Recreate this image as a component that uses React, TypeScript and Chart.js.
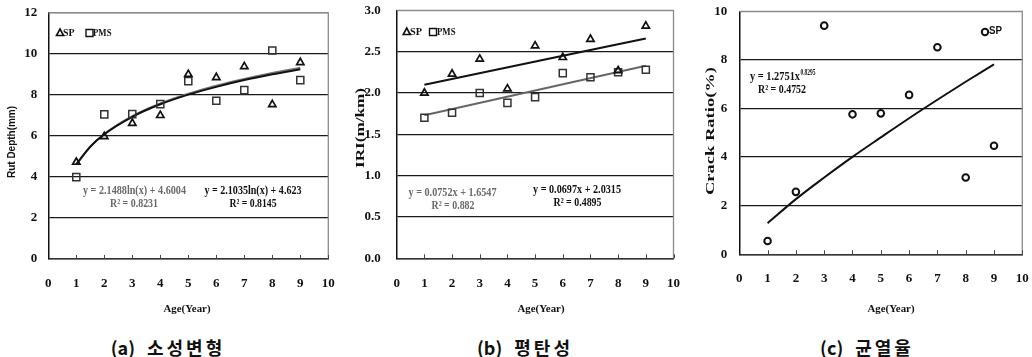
import React, { useEffect, useRef } from 'react';
import { Chart, registerables } from 'chart.js';

Chart.register(...registerables);

// ---------- data ----------
const ageYears = [1, 2, 3, 4, 5, 6, 7, 8, 9];
const xTickValues = [0, 1, 2, 3, 4, 5, 6, 7, 8, 9, 10];

// (a) rut depth (mm)
const rutDepthSP = [4.72, 5.97, 6.62, 7.0, 9.0, 8.85, 9.38, 7.53, 9.58];
const rutDepthPMS = [3.99, 7.05, 7.06, 7.55, 8.67, 7.71, 8.23, 10.16, 8.72];
const rutTrendAges = [1, 1.5, 2, 3, 4, 5, 6, 7, 8, 9];
const rutTrendSP = [4.62, 5.48, 6.08, 6.93, 7.54, 8.01, 8.39, 8.72, 9.0, 9.25];
const rutTrendPMS = [4.6, 5.47, 6.09, 6.96, 7.58, 8.06, 8.45, 8.78, 9.07, 9.32];

// (b) IRI (m/km)
const iriSP = [2.0, 2.23, 2.41, 2.05, 2.57, 2.43, 2.65, 2.27, 2.81];
const iriPMS = [1.7, 1.76, 2.0, 1.88, 1.95, 2.24, 2.19, 2.25, 2.28];
const iriTrendAges = [1, 9];
const iriTrendSP = [2.1, 2.66];
const iriTrendPMS = [1.73, 2.33];

// (c) crack ratio (%)
const crackSP = [0.55, 2.57, 9.41, 5.76, 5.8, 6.56, 8.52, 3.16, 4.47];
const crackTrendAges = [1, 2, 3, 4, 5, 6, 7, 8, 9];
const crackTrendSP = [1.28, 2.27, 3.16, 4.01, 4.81, 5.6, 6.36, 7.1, 7.82];

const captionTags = ['(a)', '(b)', '(c)'];
const captionTitles = ['소성변형', '평탄성', '균열율'];

// ---------- helpers ----------
const pts = (xs: number[], ys: number[]) => xs.map((x, i) => ({ x, y: ys[i] }));

type TextItem = {
  t: string;
  x: number;
  y: number;
  w: number;
  font: string;
  color?: string;
  align?: CanvasTextAlign;
  rot?: boolean;
  sup?: { t: string; w: number; font: string; dy: number };
};
type Marker = { kind: 'tri' | 'rect' | 'circle'; x: number; y: number };

function fitText(ctx: CanvasRenderingContext2D, it: TextItem, offX: number) {
  ctx.save();
  ctx.font = it.font;
  ctx.fillStyle = it.color || '#111';
  ctx.textBaseline = 'middle';
  const w = ctx.measureText(it.t).width;
  const sx = it.w / w;
  ctx.translate(it.x - offX, it.y);
  if (it.rot) ctx.rotate(-Math.PI / 2);
  ctx.scale(sx, 1);
  ctx.textAlign = it.align || 'center';
  ctx.fillText(it.t, 0, 0);
  ctx.restore();
  if (it.sup) {
    ctx.save();
    ctx.font = it.sup.font;
    ctx.fillStyle = it.color || '#111';
    ctx.textBaseline = 'middle';
    ctx.textAlign = 'left';
    const sw = ctx.measureText(it.sup.t).width;
    ctx.translate(it.x - offX + it.w + 0.5, it.y + it.sup.dy);
    ctx.scale(it.sup.w / sw, 1);
    ctx.fillText(it.sup.t, 0, 0);
    ctx.restore();
  }
}

function drawMarker(ctx: CanvasRenderingContext2D, m: Marker, offX: number) {
  const x = m.x - offX;
  const y = m.y;
  ctx.save();
  ctx.strokeStyle = '#111';
  ctx.lineWidth = m.kind === 'rect' ? 1.4 : m.kind === 'circle' ? 2 : 1.6;
  ctx.beginPath();
  if (m.kind === 'tri') {
    ctx.moveTo(x, y - 4);
    ctx.lineTo(x + 3.5, y + 2.5);
    ctx.lineTo(x - 3.5, y + 2.5);
    ctx.closePath();
  } else if (m.kind === 'rect') {
    ctx.rect(x - 3.5, y - 3.5, 7, 7);
  } else {
    ctx.arc(x, y, 3.2, 0, Math.PI * 2);
  }
  ctx.stroke();
  ctx.restore();
}

type Panel = {
  left: number;
  width: number;
  area: { l: number; r: number; t: number; b: number };
  yMin: number;
  yMax: number;
  yStep: number;
  yDecimals: number;
  yPad: number;
  xPad: number;
  datasets: any[];
  texts: TextItem[];
  markers: Marker[];
};

const H = 320;
const serifB = (s: number) => `bold ${s}px "Liberation Serif", "DejaVu Serif", serif`;
const sansB = (s: number) => `bold ${s}px "Liberation Sans", Arial, sans-serif`;

const triStyle = {
  pointStyle: 'triangle',
  pointRadius: 4.2,
  pointBorderWidth: 1.7,
  borderColor: '#111',
  backgroundColor: 'rgba(0,0,0,0)',
  showLine: false,
};
const rectStyle = {
  pointStyle: 'rect',
  pointRadius: 5,
  pointBorderWidth: 1.5,
  borderColor: '#333',
  backgroundColor: 'rgba(0,0,0,0)',
  showLine: false,
};
const lineStyle = (color: string) => ({
  showLine: true,
  pointRadius: 0,
  borderWidth: 2,
  borderColor: color,
  backgroundColor: color,
  cubicInterpolationMode: 'monotone',
});

const panels: Panel[] = [
  {
    left: 0,
    width: 340,
    area: { l: 48.3, r: 328.3, t: 12.8, b: 259 },
    yMin: 0,
    yMax: 12,
    yStep: 2,
    yDecimals: 0,
    yPad: 11,
    xPad: 17,
    datasets: [
      { ...lineStyle('#111'), data: pts(rutTrendAges, rutTrendSP), order: 1 },
      { ...lineStyle('#777'), data: pts(rutTrendAges, rutTrendPMS), order: 2 },
      { ...triStyle, data: pts(ageYears, rutDepthSP), order: 0 },
      { ...rectStyle, data: pts(ageYears, rutDepthPMS), order: 0 },
    ],
    texts: [
      { t: 'SP', x: 63, y: 33, w: 11.5, font: serifB(11), align: 'left' },
      { t: 'PMS', x: 93, y: 33, w: 18.5, font: serifB(11), align: 'left' },
      { t: 'y = 2.1488ln(x) + 4.6004', x: 134.5, y: 191, w: 103, font: serifB(13), color: '#6a6a6a' },
      { t: 'R² = 0.8231', x: 134, y: 204, w: 48, font: serifB(13), color: '#6a6a6a' },
      { t: 'y = 2.1035ln(x) + 4.623', x: 253, y: 191, w: 97, font: serifB(13) },
      { t: 'R² = 0.8145', x: 253, y: 204, w: 47, font: serifB(13) },
      { t: 'Rut Depth(mm)', x: 12, y: 142, w: 72, font: sansB(10), rot: true },
      { t: 'Age(Year)', x: 187, y: 309, w: 47, font: serifB(11) },
    ],
    markers: [
      { kind: 'tri', x: 60, y: 33 },
      { kind: 'rect', x: 89.5, y: 33 },
    ],
  },
  {
    left: 340,
    width: 340,
    area: { l: 396.7, r: 674.3, t: 10.3, b: 258.3 },
    yMin: 0,
    yMax: 3,
    yStep: 0.5,
    yDecimals: 1,
    yPad: 16,
    xPad: 18,
    datasets: [
      { ...lineStyle('#111'), data: pts(iriTrendAges, iriTrendSP), order: 1 },
      { ...lineStyle('#666'), data: pts(iriTrendAges, iriTrendPMS), order: 2 },
      { ...triStyle, data: pts(ageYears, iriSP), order: 0 },
      { ...rectStyle, data: pts(ageYears, iriPMS), order: 0 },
    ],
    texts: [
      { t: 'SP', x: 410, y: 32, w: 12, font: serifB(11), align: 'left' },
      { t: 'PMS', x: 437, y: 32, w: 18.5, font: serifB(11), align: 'left' },
      { t: 'y = 0.0752x + 1.6547', x: 452.5, y: 193, w: 88, font: serifB(13), color: '#6a6a6a' },
      { t: 'R² = 0.882', x: 453, y: 206, w: 43, font: serifB(13), color: '#6a6a6a' },
      { t: 'y = 0.0697x + 2.0315', x: 577, y: 190, w: 88, font: serifB(13) },
      { t: 'R² = 0.4895', x: 577.5, y: 203, w: 48, font: serifB(13) },
      { t: 'IRI(m/km)', x: 361, y: 128, w: 80, font: serifB(13), rot: true },
      { t: 'Age(Year)', x: 541, y: 309, w: 47, font: serifB(11) },
    ],
    markers: [
      { kind: 'tri', x: 406.7, y: 32 },
      { kind: 'rect', x: 433, y: 32 },
    ],
  },
  {
    left: 690,
    width: 342,
    area: { l: 739.3, r: 1022.3, t: 11.3, b: 254.3 },
    yMin: 0,
    yMax: 10,
    yStep: 2,
    yDecimals: 0,
    yPad: 12,
    xPad: 17,
    datasets: [
      { ...lineStyle('#111'), data: pts(crackTrendAges, crackTrendSP), order: 1 },
      {
        pointStyle: 'circle',
        pointRadius: 3.3,
        pointBorderWidth: 2,
        borderColor: '#111',
        backgroundColor: 'rgba(0,0,0,0)',
        showLine: false,
        data: pts(ageYears, crackSP),
        order: 0,
      },
    ],
    texts: [
      { t: 'SP', x: 989, y: 31, w: 13, font: sansB(10), align: 'left' },
      {
        t: 'y = 1.2751x',
        x: 750,
        y: 77,
        w: 50,
        font: serifB(13),
        align: 'left',
        sup: { t: '0.8295', w: 15, font: serifB(8), dy: -4 },
      },
      { t: 'R² = 0.4752', x: 758, y: 90, w: 48, font: serifB(13), align: 'left' },
      { t: 'Crack Ratio(%)', x: 711, y: 131, w: 128, font: serifB(12), rot: true },
      { t: 'Age(Year)', x: 891, y: 309, w: 47, font: serifB(11) },
    ],
    markers: [{ kind: 'circle', x: 985, y: 32 }],
  },
];

function PanelChart({ p }: { p: Panel }) {
  const ref = useRef<HTMLCanvasElement | null>(null);
  useEffect(() => {
    const canvas = ref.current;
    if (!canvas) return;
    const yWidth = p.area.l - p.left;
    const xHeight = H - p.area.b;
    const overlay = {
      id: 'overlay' + p.left,
      beforeDatasetsDraw(chart: any) {
        const { ctx, chartArea: a } = chart;
        ctx.save();
        ctx.strokeStyle = '#8a8a8a';
        ctx.lineWidth = 1.3;
        ctx.beginPath();
        ctx.moveTo(a.left, a.top);
        ctx.lineTo(a.right, a.top);
        ctx.lineTo(a.right, a.bottom);
        ctx.stroke();
        // small inward tick marks on the x axis
        const xs = chart.scales.x;
        ctx.strokeStyle = '#444';
        ctx.lineWidth = 1;
        ctx.beginPath();
        xTickValues.forEach((v) => {
          if (v === 0) return;
          const px = Math.round(xs.getPixelForValue(v)) + 0.5;
          ctx.moveTo(px, a.bottom);
          ctx.lineTo(px, a.bottom - 4);
        });
        ctx.stroke();
        ctx.restore();
      },
      afterDraw(chart: any) {
        const ctx = chart.ctx as CanvasRenderingContext2D;
        p.markers.forEach((m) => drawMarker(ctx, m, p.left));
        p.texts.forEach((t) => fitText(ctx, t, p.left));
      },
    };
    const chart = new Chart(canvas, {
      type: 'scatter',
      data: { datasets: p.datasets },
      options: {
        responsive: false,
        animation: false,
        events: [],
        devicePixelRatio: 1,
        layout: {
          padding: {
            left: 0,
            right: p.left + p.width - p.area.r,
            top: p.area.t,
            bottom: 0,
          },
        },
        plugins: { legend: { display: false }, tooltip: { enabled: false } },
        scales: {
          x: {
            type: 'linear',
            min: 0,
            max: 10,
            afterBuildTicks: (s: any) => {
              s.ticks = xTickValues.map((v) => ({ value: v }));
            },
            afterFit: (s: any) => {
              s.height = xHeight;
              s.paddingLeft = 0;
              s.paddingRight = 0;
            },
            grid: { display: false, drawTicks: false },
            border: { display: true, color: '#333', width: 1.5 },
            ticks: {
              padding: p.xPad,
              color: '#111',
              font: { family: '"Liberation Serif", serif', weight: 'bold', size: 13 },
              maxRotation: 0,
              autoSkip: false,
            },
          },
          y: {
            type: 'linear',
            min: p.yMin,
            max: p.yMax,
            afterFit: (s: any) => {
              s.width = yWidth;
              s.paddingTop = 0;
              s.paddingBottom = 0;
            },
            grid: {
              drawTicks: false,
              color: (c: any) => (c.tick && c.tick.value === p.yMax ? '#8a8a8a' : '#1a1a1a'),
              lineWidth: 1.3,
            },
            border: { display: true, color: '#111', width: 1.5 },
            ticks: {
              stepSize: p.yStep,
              padding: p.yPad,
              color: '#111',
              font: { family: '"Liberation Serif", serif', weight: 'bold', size: 13 },
              callback: (v: any) => Number(v).toFixed(p.yDecimals),
            },
          },
        },
      } as any,
      plugins: [overlay],
    });
    return () => chart.destroy();
  }, [p]);
  return (
    <div style={{ position: 'absolute', left: p.left, top: 0, width: p.width, height: H }}>
      <canvas ref={ref} width={p.width} height={H} style={{ width: p.width, height: H, display: 'block' }} />
    </div>
  );
}

const captionCenters = [168, 525, 867];

export default function App() {
  return (
    <div
      style={{
        position: 'absolute',
        left: 0,
        top: 0,
        width: 1032,
        height: 357,
        background: '#fff',
        overflow: 'hidden',
      }}
    >
      {panels.map((p, i) => (
        <PanelChart key={i} p={p} />
      ))}
      {captionTags.map((tag, i) => (
        <div
          key={tag}
          style={{
            position: 'absolute',
            left: captionCenters[i],
            top: 337,
            transform: 'translateX(-50%)',
            whiteSpace: 'nowrap',
            font: 'bold 18px "Noto Sans CJK KR", "Noto Sans", sans-serif',
            lineHeight: '20px',
            color: '#111',
          }}
        >
          <span>{tag}</span>
          <span style={{ marginLeft: 12, letterSpacing: '3px' }}>{captionTitles[i]}</span>
        </div>
      ))}
    </div>
  );
}
